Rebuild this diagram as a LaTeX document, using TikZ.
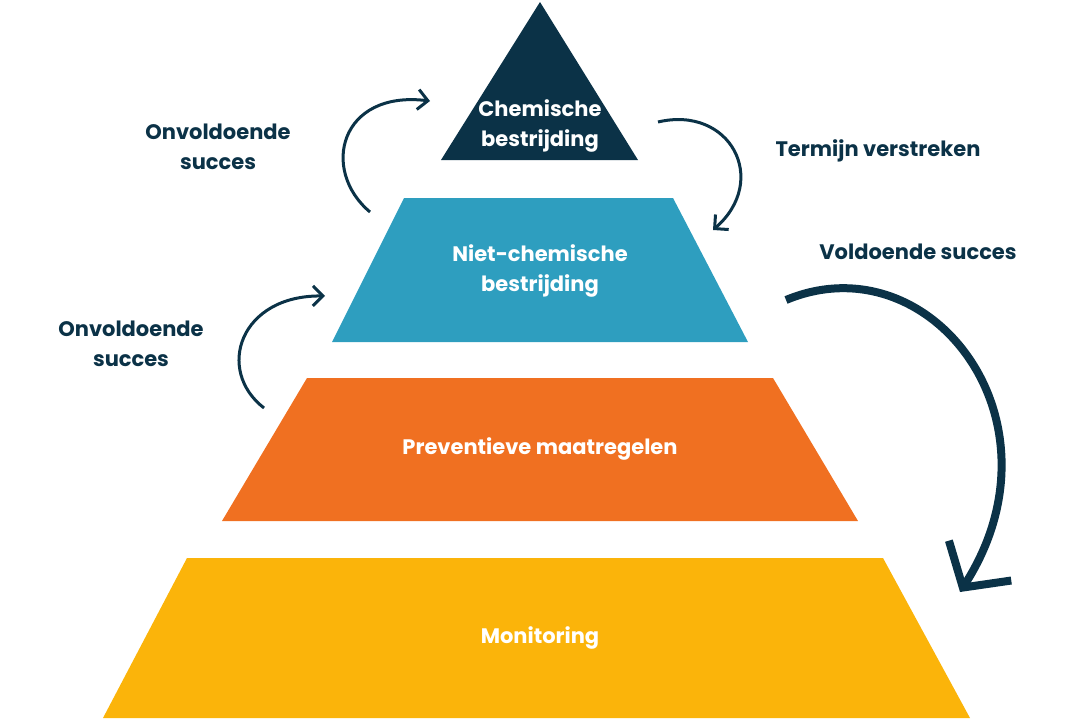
\documentclass[tikz,border=0pt]{standalone}
\usepackage{fontspec}
\setmainfont{Poppins}
\usetikzlibrary{arrows.meta,positioning}
\definecolor{navy}{HTML}{0B3247}
\definecolor{teal}{HTML}{2E9EBF}
\definecolor{oranje}{HTML}{F07021}
\definecolor{geel}{HTML}{FBB40A}

\begin{document}
\begin{tikzpicture}[
	x=1pt, y=-1pt,
	layer/.style = {text=white, font=\bfseries\fontsize{21}{30}\selectfont, align=center},
	label/.style = {text=navy, font=\bfseries\fontsize{21}{30}\selectfont, align=center},
	loop/.style = {draw=navy, line width=3pt, -{Straight Barb[length=10pt,width=20pt]}},
	big/.style = {draw=navy, line width=8pt, -{Straight Barb[length=32pt,width=74pt,line width=8pt]}}
]
\useasboundingbox (0,0) rectangle (1080,720);

% pyramid layers
\fill[navy]   (540,2) -- (638,160) -- (441,160) -- cycle;
\fill[teal]   (404,198) -- (673,198) -- (748,342) -- (332,342) -- cycle;
\fill[oranje] (307,378) -- (773,378) -- (858,521) -- (222,521) -- cycle;
\fill[geel]   (187,558) -- (883,558) -- (970,718) -- (103,718) -- cycle;

\node (chem)  [layer] at (540,126) {Chemische\\bestrijding};
\node (niet)  [layer] at (540,271) {Niet-chemische\\bestrijding};
\node (prev)  [layer] at (540,449) {Preventieve maatregelen};
\node (mon)   [layer] at (540,638) {Monitoring};

% labels
\node (onv1)  [label] at (218,147) {Onvoldoende\\succes};
\node (term)  [label] at (878,151) {Termijn verstreken};
\node (vold)  [label] at (918,252) {Voldoende succes};
\node (onv2)  [label] at (131,344) {Onvoldoende\\succes};

% arrow ends
\coordinate (a1) at (370,212);
\coordinate (b1) at (430,101);
\coordinate (a2) at (658,122);
\coordinate (b2) at (713,230);
\coordinate (a3) at (264,408);
\coordinate (b3) at (325,296);
\coordinate (a4) at (786,300);
\coordinate (b4) at (960,592);

\draw[loop] (a1) .. controls (320,170) and (340,90) .. (b1);
\draw[loop] (a2) .. controls (730,105) and (770,180) .. (b2);
\draw[loop] (a3) .. controls (215,370) and (240,295) .. (b3);
\draw[big]  (a4) .. controls (930,240) and (1070,420) .. (b4);

\end{tikzpicture}
\end{document}
